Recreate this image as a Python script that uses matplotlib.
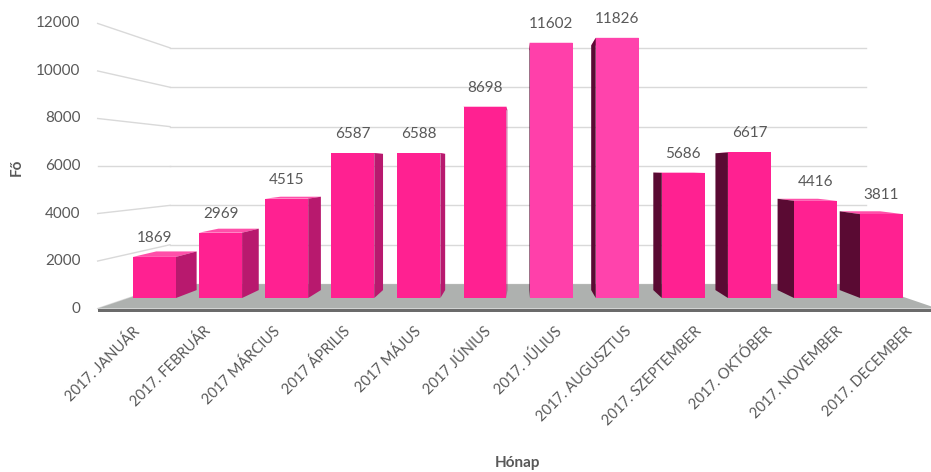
"""Monthly headcount 2017 - fake 3D column chart (Excel style)."""

import numpy as np
import matplotlib
matplotlib.use('Agg')
import matplotlib.pyplot as plt
from matplotlib.patches import Polygon
from matplotlib.colors import to_rgb

months = ['2017. JANUÁR', '2017. FEBRUÁR', '2017 MÁRCIUS', '2017 ÁPRILIS',
          '2017 MÁJUS', '2017 JÚNIUS', '2017. JÚLIUS', '2017. AUGUSZTUS',
          '2017. SZEPTEMBER', '2017. OKTÓBER', '2017. NOVEMBER', '2017. DECEMBER']
values = [1869, 2969, 4515, 6587, 6588, 8698, 11602, 11826, 5686, 6617, 4416, 3811]
y_ticks = [0, 2000, 4000, 6000, 8000, 10000, 12000]

plt.rcParams['font.family'] = ['Lato', 'DejaVu Sans']
TXT = '#595959'

W_PX, H_PX = 931, 472
X0_PX, DX_PX = 154.5, 66.1      # pixel x of first bar centre, bar spacing
Y0_PX, PPU = 298.0, 0.022       # pixel y of bar base, pixels per unit

fig = plt.figure(figsize=(W_PX / 100, H_PX / 100), dpi=100)
ax = fig.add_axes([0, 0, 1, 1])
ax.set_xlim(-X0_PX / DX_PX, (W_PX - X0_PX) / DX_PX)
ax.set_ylim((Y0_PX - H_PX) / PPU, Y0_PX / PPU)
ax.axis('off')

# perspective: scale about the vanishing point
XV = (520 - X0_PX) / DX_PX
VV = 6000.0
S_FLOOR, S_LABEL, S_FRONT, S_BACK, S_WALL = 1.08, 1.063, 1.0, 0.94, 0.895
XL = XV + ((170 - X0_PX) / DX_PX - XV) / S_WALL
XR = XV + ((866 - X0_PX) / DX_PX - XV) / S_WALL


def proj(x, v, s):
    return XV + (x - XV) * s, VV + (v - VV) * s


def poly(pts, **kw):
    ax.add_patch(Polygon([proj(*p) for p in pts], closed=True, **kw))


# grid lines: back wall and left wall
for t in y_ticks:
    xa, ya = proj(XL, t, S_WALL)
    xb, yb = proj(XR, t, S_WALL)
    ax.plot([xa, xb], [ya, yb], color='#d9d9d9', lw=1.0, zorder=1)
    xf, yf = proj(XL, t, S_FLOOR)
    ax.plot([xf, xa], [yf, ya], color='#d9d9d9', lw=1.0, zorder=1)
    ax.text(xf - 17 / DX_PX, yf, f'{t}', ha='right', va='center',
            fontsize=11, color=TXT)

# floor
poly([(XL, 0, S_FLOOR), (XR, 0, S_FLOOR), (XR, 0, S_WALL), (XL, 0, S_WALL)],
     facecolor='#aeb1af', edgecolor='none', zorder=2)
poly([(XL, 0, S_FLOOR), (XR, 0, S_FLOOR), (XR, -130, S_FLOOR), (XL, -130, S_FLOOR)],
     facecolor='#6b6b6b', edgecolor='none', zorder=2)

# bars
x = np.arange(len(values))
bw = 0.65
base = np.array(to_rgb('#ff2191'))
light = np.array(to_rgb('#ff45ae'))
front_cols = []
for xi, v in zip(x, values):
    t = np.clip((v - 9000) / 3000, 0, 1)
    front_cols.append(tuple(base + (light - base) * t))
    xl, xr = xi - bw / 2, xi + bw / 2
    poly([(xl, v, S_FRONT), (xr, v, S_FRONT), (xr, v, S_BACK), (xl, v, S_BACK)],
         facecolor='#ff4fa9', edgecolor='none', zorder=3)
    if xr < XV:
        poly([(xr, 0, S_FRONT), (xr, v, S_FRONT), (xr, v, S_BACK), (xr, 0, S_BACK)],
             facecolor='#b8196e', edgecolor='none', zorder=3)
    if xl > XV:
        poly([(xl, 0, S_FRONT), (xl, v, S_FRONT), (xl, v, S_BACK), (xl, 0, S_BACK)],
             facecolor='#5a0a33', edgecolor='none', zorder=3)

ax.bar(x, values, width=bw, color=front_cols, edgecolor='none', zorder=4)

# value labels
for xi, v in zip(x, values):
    ax.text(xi, v + 19 / PPU, f'{v}', ha='center', va='center',
            fontsize=11, color=TXT, zorder=5)

# category labels
for xi, m in zip(x, months):
    lx, _ = proj(xi, 0, S_LABEL)
    ax.text(lx + 1 / DX_PX, (Y0_PX - 324) / PPU, m, rotation=45,
            rotation_mode='anchor', ha='right', va='top', fontsize=10.5, color=TXT)

ax.text((517 - X0_PX) / DX_PX, (Y0_PX - 463) / PPU, 'Hónap', ha='center', va='center',
        fontsize=11, fontweight='bold', color=TXT)
ax.text((17 - X0_PX) / DX_PX, (Y0_PX - 167) / PPU, 'Fő', ha='center', va='center',
        rotation=90, fontsize=11, fontweight='bold', color=TXT)

fig.savefig('out.png', dpi=100)
